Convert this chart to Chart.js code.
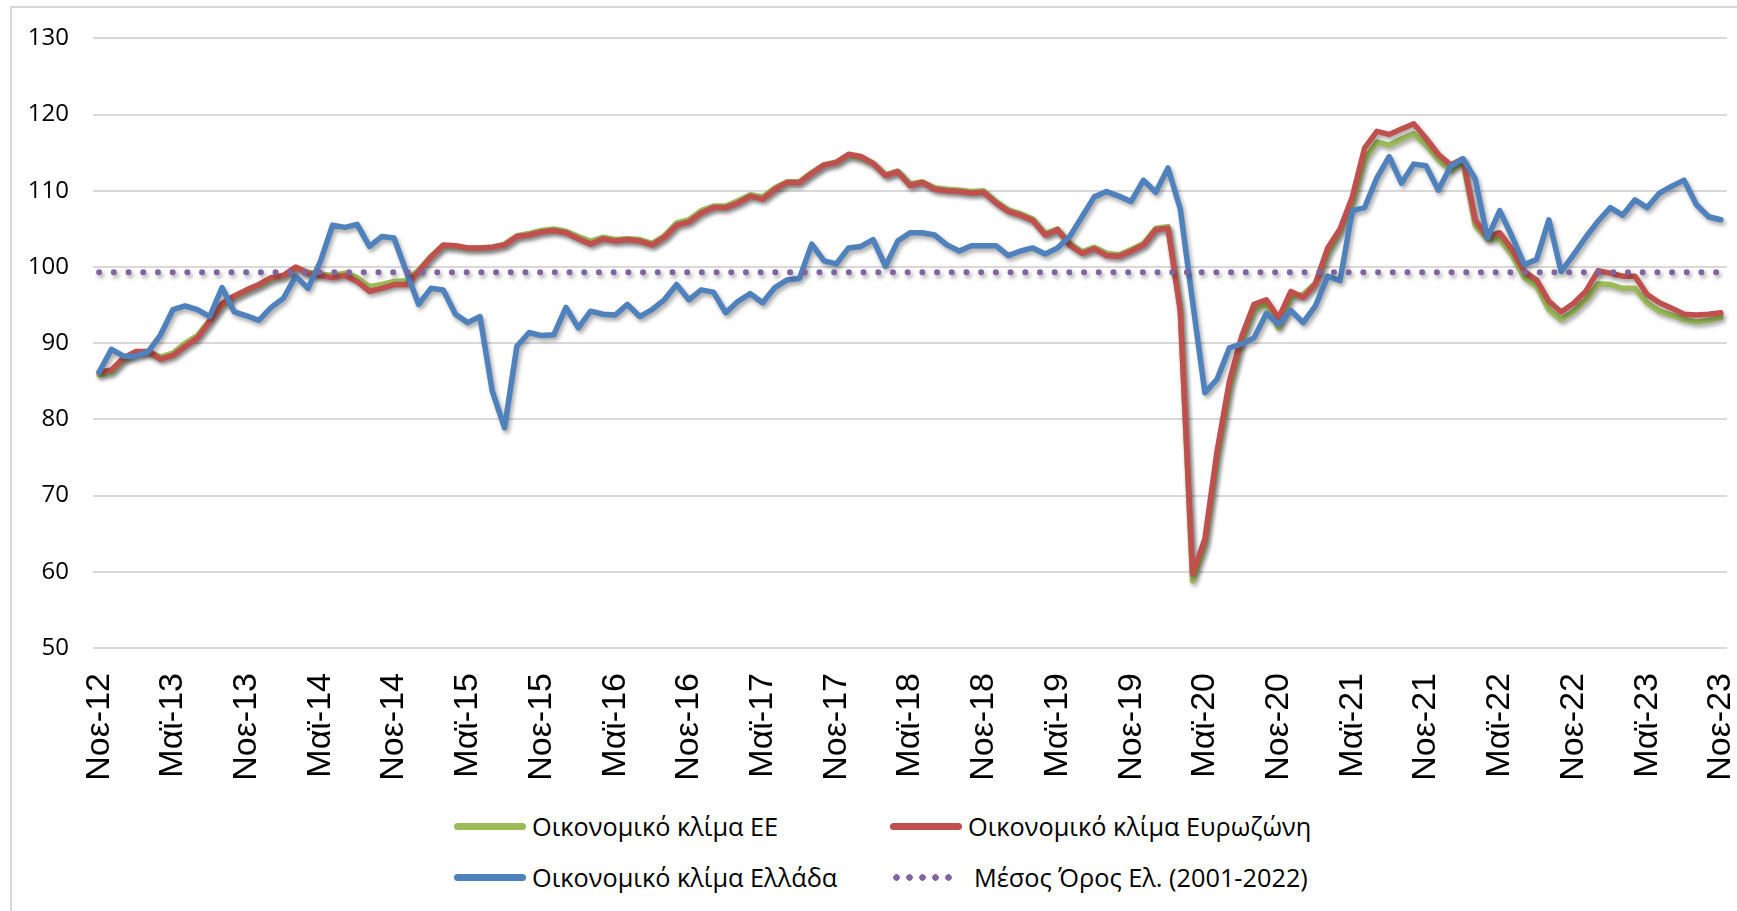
<!DOCTYPE html>
<html lang="el">
<head>
<meta charset="UTF-8">
<title>Οικονομικό κλίμα</title>
<script src="https://cdn.jsdelivr.net/npm/chart.js"></script>
<style>
  html, body { margin: 0; padding: 0; background: #fff; }
  body { width: 1737px; height: 911px; position: relative; overflow: hidden; }
  #frame { position: absolute; left: 10px; top: 6px; width: 1740px; height: 920px; border: 2px solid #d9d9d9; box-sizing: border-box; }
  #chart { position: absolute; left: 0; top: 0; }
  .leg { position: absolute; font-family: "Open Sans", sans-serif; font-size: 25.3px; color: #000; display: flex; align-items: center; white-space: nowrap; }
  .leg .sw { display: inline-block; width: 72px; height: 7px; border-radius: 4px; margin-right: 6px; }
  .leg .dots { display: inline-block; width: 64px; height: 7px; margin-right: 20px; }
</style>
</head>
<body>
<div id="frame"></div>
<canvas id="chart" width="1737" height="790"></canvas>
<div id="legend"></div>

<script>
// μήνες (ετικέτες κατηγοριών)
const months = ['Ιαν', 'Φεβ', 'Μαρ', 'Απρ', 'Μαϊ', 'Ιουν', 'Ιουλ', 'Αυγ', 'Σεπ', 'Οκτ', 'Νοε', 'Δεκ'];
const firstMonth = 10, firstYear = 12, nPoints = 133; // Νοε-12 ... Νοε-23
const tickEvery = 6;

// Οικονομικό κλίμα ΕΕ
const esiEU = [
  85.9, 86.2, 87.9, 88.7, 88.9, 88.2, 88.7, 90.0, 91.0, 93.0, 95.0, 96.1, 96.9, 97.6, 98.4, 98.8, 99.9, 99.3, 99.1, 98.9,
  99.2, 98.6, 97.4, 97.7, 98.1, 98.2, 99.6, 101.4, 102.8, 102.7, 102.5, 102.5, 102.6, 103.0, 104.1, 104.4, 104.8, 105.0, 104.7, 104.0,
  103.4, 103.9, 103.6, 103.7, 103.6, 103.1, 104.1, 105.8, 106.2, 107.4, 108.0, 108.0, 108.7, 109.5, 109.2, 110.4, 111.2, 111.2, 112.4, 113.4,
  113.8, 114.7, 114.3, 113.6, 112.1, 112.6, 110.9, 111.2, 110.4, 110.2, 110.1, 109.9, 110.0, 108.6, 107.5, 107.0, 106.3, 104.4, 105.0, 103.1,
  102.0, 102.6, 101.8, 101.6, 102.3, 103.1, 105.1, 105.3, 94.6, 58.8, 63.6, 75.0, 84.1, 90.3, 94.4, 95.2, 92.0, 96.1, 96.4, 97.9,
  101.8, 104.7, 108.4, 114.1, 116.4, 116.0, 116.8, 117.5, 116.0, 114.1, 112.7, 113.9, 105.5, 103.7, 103.7, 101.6, 98.6, 97.5, 94.4, 93.1,
  94.2, 95.7, 97.8, 97.7, 97.2, 97.2, 95.3, 94.2, 93.7, 93.1, 92.8, 93.0, 93.4
];

// Οικονομικό κλίμα Ευρωζώνη
const esiEA = [
  86.2, 86.5, 88.1, 88.9, 88.9, 87.9, 88.4, 89.6, 90.7, 92.9, 95.2, 96.2, 97.0, 97.7, 98.6, 98.9, 100.0, 99.2, 98.9, 98.6,
  98.9, 98.1, 96.8, 97.2, 97.7, 97.7, 99.4, 101.3, 102.9, 102.8, 102.5, 102.5, 102.6, 102.9, 104.0, 104.2, 104.6, 104.8, 104.5, 103.7,
  103.0, 103.7, 103.4, 103.6, 103.4, 102.9, 103.9, 105.5, 105.9, 107.1, 107.8, 107.8, 108.4, 109.3, 108.9, 110.2, 111.1, 111.1, 112.3, 113.4,
  113.7, 114.8, 114.5, 113.6, 112.0, 112.5, 110.7, 111.1, 110.2, 110.0, 109.9, 109.7, 109.8, 108.4, 107.3, 106.8, 106.1, 104.2, 104.9, 102.9,
  101.8, 102.4, 101.5, 101.4, 102.1, 102.9, 104.9, 105.1, 94.2, 59.7, 64.3, 75.9, 85.0, 90.9, 95.1, 95.7, 93.3, 96.8, 96.0, 97.8,
  102.5, 105.0, 109.2, 115.6, 117.8, 117.4, 118.1, 118.8, 116.9, 114.8, 113.4, 114.2, 106.2, 104.0, 104.5, 102.3, 99.4, 98.3, 95.5, 94.1,
  95.2, 96.8, 99.5, 99.2, 98.8, 98.8, 96.4, 95.3, 94.6, 93.8, 93.7, 93.8, 94.0
];

// Οικονομικό κλίμα Ελλάδα
const esiGR = [
  86.2, 89.2, 88.3, 88.3, 88.9, 91.1, 94.4, 94.9, 94.4, 93.5, 97.3, 94.1, 93.6, 93.0, 94.7, 95.9, 98.8, 97.2, 100.7, 105.5,
  105.2, 105.6, 102.7, 104.0, 103.8, 99.4, 95.1, 97.2, 97.0, 93.8, 92.7, 93.5, 83.7, 78.9, 89.6, 91.4, 91.0, 91.1, 94.7, 92.0,
  94.2, 93.8, 93.7, 95.1, 93.5, 94.4, 95.7, 97.7, 95.7, 97.0, 96.7, 94.0, 95.5, 96.5, 95.3, 97.3, 98.3, 98.5, 103.0, 100.8,
  100.4, 102.5, 102.7, 103.6, 100.1, 103.4, 104.5, 104.5, 104.2, 102.9, 102.1, 102.8, 102.8, 102.8, 101.5, 102.1, 102.5, 101.7, 102.5, 104.0,
  106.6, 109.2, 109.9, 109.3, 108.6, 111.4, 109.8, 113.0, 107.6, 95.5, 83.5, 85.3, 89.4, 89.9, 90.7, 93.9, 92.5, 94.3, 92.7, 94.9,
  98.8, 98.2, 107.4, 107.8, 111.7, 114.5, 111.0, 113.5, 113.3, 110.1, 113.2, 114.2, 111.6, 103.8, 107.4, 104.0, 100.3, 101.0, 106.2, 99.4,
  101.6, 103.9, 106.0, 107.8, 106.8, 108.8, 107.8, 109.7, 110.6, 111.4, 108.2, 106.6, 106.2
];

// Μέσος Όρος Ελλάδας 2001-2022
const avgGR = 99.3;

const yMin = 50, yMax = 130, yStep = 10;

const labels = [];
for (let i = 0; i < nPoints; i++) {
  const m = (firstMonth + i) % 12;
  const y = firstYear + Math.floor((firstMonth + i) / 12);
  labels.push(months[m] + '-' + y);
}
const avgLine = labels.map(() => avgGR);

const green = '#9BBB59', red = '#C0504D', blue = '#4F81BD', purple = '#8064A2';

const lineShadow = {
  id: 'lineShadow',
  beforeDatasetsDraw(chart) {
    const c = chart.ctx;
    c.save();
    c.shadowColor = 'rgba(0,0,0,0.35)';
    c.shadowBlur = 4;
    c.shadowOffsetX = 2;
    c.shadowOffsetY = 3;
  },
  afterDatasetsDraw(chart) {
    chart.ctx.restore();
  }
};

const ctx = document.getElementById('chart').getContext('2d');
const chart = new Chart(ctx, {
  type: 'line',
  data: {
    labels: labels,
    datasets: [
      { label: 'Οικονομικό κλίμα ΕΕ', data: esiEU, borderColor: green, borderWidth: 5.5, order: 3 },
      { label: 'Οικονομικό κλίμα Ευρωζώνη', data: esiEA, borderColor: red, borderWidth: 5.5, order: 2 },
      { label: 'Οικονομικό κλίμα Ελλάδα', data: esiGR, borderColor: blue, borderWidth: 5.5, order: 1 },
      { label: 'Μέσος Όρος Ελ. (2001-2022)', data: avgLine, borderColor: purple, borderWidth: 6,
        borderDash: [0, 14.7], borderCapStyle: 'round', order: 0 }
    ]
  },
  options: {
    responsive: false,
    animation: false,
    devicePixelRatio: 1,
    elements: {
      point: { radius: 0, hoverRadius: 0 },
      line: { tension: 0, borderJoinStyle: 'round', borderCapStyle: 'round', fill: false }
    },
    layout: { padding: { left: 0, right: 10, top: 35, bottom: 0 } },
    plugins: {
      legend: { display: false },
      tooltip: { enabled: false }
    },
    scales: {
      x: {
        offset: true,
        grid: { display: false, drawTicks: false },
        border: { display: false },
        ticks: {
          autoSkip: false,
          minRotation: 90,
          maxRotation: 90,
          padding: 25,
          color: '#000',
          font: { family: '"Liberation Sans", Arial, sans-serif', size: 34 },
          callback: function (v, i) { return i % tickEvery === 0 ? this.getLabelForValue(v) : ''; }
        },
        afterFit(scale) {
          scale.height = 142;
          scale.paddingLeft = 0;
          scale.paddingRight = 0;
        }
      },
      y: {
        min: yMin,
        max: yMax,
        grid: { color: '#d9d9d9', lineWidth: 2, drawTicks: false },
        border: { display: false },
        ticks: {
          stepSize: yStep,
          padding: 24,
          color: '#000',
          font: { family: '"Open Sans", sans-serif', size: 24 }
        },
        afterFit(scale) { scale.width = 93; }
      }
    }
  },
  plugins: [lineShadow]
});

// υπόμνημα σε δύο στήλες
const legendPos = [
  { ds: 0, left: 454, top: 826 },
  { ds: 1, left: 890, top: 826 },
  { ds: 2, left: 454, top: 877 },
  { ds: 3, left: 890, top: 877 }
];
const legendEl = document.getElementById('legend');
legendPos.forEach(p => {
  const ds = chart.data.datasets[p.ds];
  const item = document.createElement('div');
  item.className = 'leg';
  item.style.left = p.left + 'px';
  item.style.top = (p.top - 17) + 'px';
  item.style.height = '34px';
  const sw = document.createElement('span');
  if (ds.borderDash) {
    sw.className = 'dots';
    sw.style.background = 'radial-gradient(circle, ' + ds.borderColor + ' 3px, transparent 3.5px) 0 0 / 13px 7px repeat-x';
  } else {
    sw.className = 'sw';
    sw.style.background = ds.borderColor;
  }
  item.appendChild(sw);
  const txt = document.createElement('span');
  txt.textContent = ds.label;
  item.appendChild(txt);
  legendEl.appendChild(item);
});
</script>
</body>
</html>
